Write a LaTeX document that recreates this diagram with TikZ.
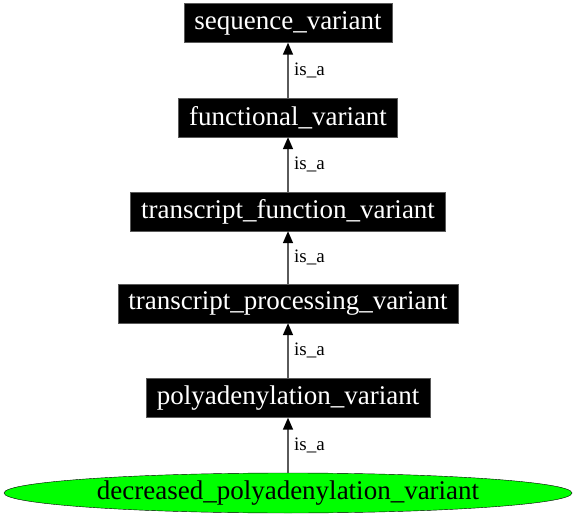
\documentclass[tikz,border=0pt]{standalone}
\usepackage{fontspec}
\setmainfont{Liberation Serif}
\usetikzlibrary{shapes.geometric}
\usetikzlibrary{arrows.meta}
\definecolor{leafgreen}{RGB}{0,255,0}
\definecolor{edgegray}{RGB}{90,90,90}
\tikzset{
  termbox/.style={rectangle,fill=black,draw=edgegray,thin,text=white,font=\fontsize{27}{32}\selectfont,inner xsep=10.5pt,inner ysep=0pt,minimum height=39pt},
  leafnode/.style={ellipse,fill=leafgreen,draw=black,thin,font=\fontsize{27}{32}\selectfont,inner sep=0pt,minimum width=568pt,minimum height=40pt},
  isaedge/.style={draw=edgegray,line width=1.6pt,-{Triangle[length=12pt,width=10pt,fill=black,color=black]}},
  isalabel/.style={font=\fontsize{19}{22}\selectfont,anchor=west,xshift=2pt}
}

\begin{document}
\begin{tikzpicture}[x=1pt,y=1pt]
\useasboundingbox (0,0) rectangle (576,523);
\node[termbox] (seqvar) at (288,500) {sequence\_variant};
\node[termbox] (funcvar) at (288,405.5) {functional\_variant};
\node[termbox] (tfvar) at (288,311.5) {transcript\_function\_variant};
\node[termbox] (tpvar) at (288,219.5) {transcript\_processing\_variant};
\node[termbox] (polyvar) at (288,125) {polyadenylation\_variant};
\node[leafnode] (decpoly) at (288,30) {decreased\_polyadenylation\_variant};

\draw[isaedge] (funcvar) -- node[isalabel] {is\_a} (seqvar);
\draw[isaedge] (tfvar) -- node[isalabel] {is\_a} (funcvar);
\draw[isaedge] (tpvar) -- node[isalabel] {is\_a} (tfvar);
\draw[isaedge] (polyvar) -- node[isalabel] {is\_a} (tpvar);
\draw[isaedge] (decpoly) -- node[isalabel] {is\_a} (polyvar);

\end{tikzpicture}
\end{document}
